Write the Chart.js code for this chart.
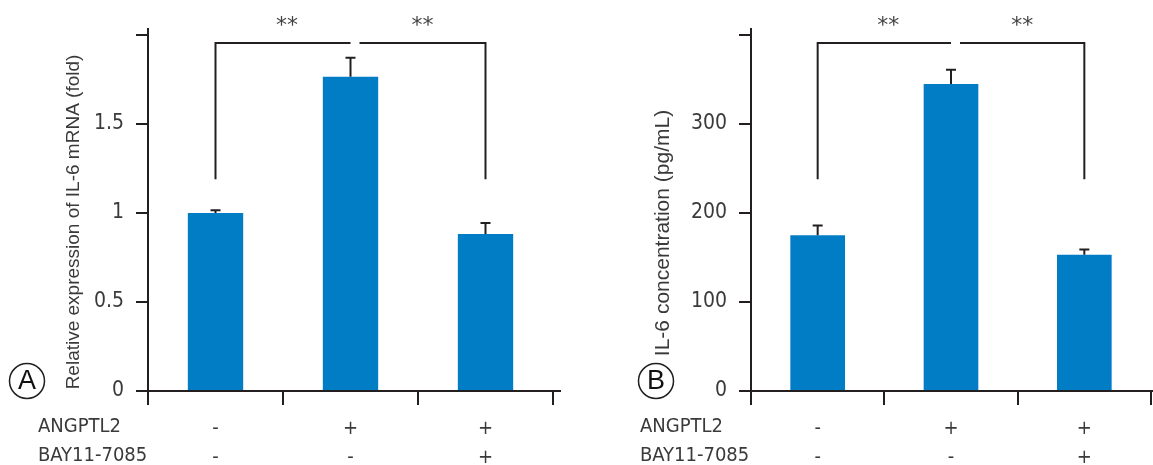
<!DOCTYPE html>
<html lang="en">
<head>
<meta charset="UTF-8">
<title>IL-6 ANGPTL2 BAY11-7085</title>
<script src="https://cdn.jsdelivr.net/npm/chart.js"></script>
<style>
  body { margin: 0; background: #fff; }
  #wrap { position: relative; width: 1153px; height: 465px; }
  canvas { position: absolute; top: 0; }
  #chartA { left: 0; }
  #chartB { left: 600px; }
</style>
</head>
<body>
<div id="wrap">
  <canvas id="chartA" width="600" height="465"></canvas>
  <canvas id="chartB" width="553" height="465"></canvas>
</div>
<script>
// treatment groups (x categories, one row per treatment)
const groups = [['-', '-'], ['+', '-'], ['+', '+']];
const rowNames = ['ANGPTL2', 'BAY11-7085'];

// panel A : relative IL-6 mRNA
const mrnaValues = [1.0, 1.765, 0.882];
const mrnaErrors = [0.015, 0.107, 0.062];
const mrnaBracket = [1.19, 1.955];   // bottom / top of the ** bracket
const mrnaTicks = [0, 0.5, 1, 1.5, 2];

// panel B : IL-6 concentration
const il6Values = [175, 345, 153];
const il6Errors = [11, 16, 6];
const il6Bracket = [238, 391];
const il6Ticks = [0, 100, 200, 300, 400];

const FONT = "'DejaVu Sans Condensed', 'Liberation Sans', sans-serif";
const TITLE_FONT = "'Liberation Sans', Arial, sans-serif";
const TEXT = '#3a3a3a';
const INK = '#231f20';
const BLUE = '#007dc5';

function makePanel(id, o) {
    const deco = {
        id: 'deco',
        afterDraw(chart) {
            const ctx = chart.ctx;
            const a = chart.chartArea;
            const y = chart.scales.y;
            const bars = chart.getDatasetMeta(0).data;
            ctx.save();
            ctx.strokeStyle = INK;
            ctx.lineWidth = 2;

            // axis lines, a bit longer than the plot area
            ctx.beginPath();
            ctx.moveTo(a.left, a.top - 7);
            ctx.lineTo(a.left, a.bottom + 11);
            ctx.moveTo(a.left - 11, a.bottom);
            ctx.lineTo(a.right + o.xExtra, a.bottom);
            ctx.stroke();

            // error bars (upper only)
            bars.forEach((b, i) => {
                const yt = y.getPixelForValue(o.values[i] + o.errors[i]);
                ctx.beginPath();
                ctx.moveTo(b.x, b.y);
                ctx.lineTo(b.x, yt);
                ctx.moveTo(b.x - 5, yt);
                ctx.lineTo(b.x + 5, yt);
                ctx.stroke();
            });

            // significance bracket
            const x1 = bars[0].x, xm = bars[1].x, x3 = bars[2].x;
            const yb = y.getPixelForValue(o.bracket[0]);
            const yt = y.getPixelForValue(o.bracket[1]);
            ctx.beginPath();
            ctx.moveTo(x1, yb);
            ctx.lineTo(x1, yt);
            ctx.lineTo(xm, yt);
            ctx.moveTo(xm + 9, yt);
            ctx.lineTo(x3, yt);
            ctx.lineTo(x3, yb);
            ctx.stroke();

            ctx.fillStyle = '#444';
            ctx.font = "22px 'DejaVu Sans'";
            ctx.textAlign = 'center';
            ctx.textBaseline = 'alphabetic';
            ctx.fillText('**', (x1 + xm) / 2 + 4, 32);
            ctx.fillText('**', (xm + 9 + x3) / 2, 32);

            // axis title
            ctx.fillStyle = TEXT;
            ctx.font = o.titleSize + 'px ' + TITLE_FONT;
            ctx.translate(o.titleX, o.titleY);
            ctx.rotate(-Math.PI / 2);
            ctx.textBaseline = 'middle';
            ctx.fillText(o.title, 0, 0);
            ctx.setTransform(1, 0, 0, 1, 0, 0);

            // row names for the +/- table
            ctx.font = '20px ' + FONT;
            ctx.textAlign = 'left';
            rowNames.forEach((n, i) => ctx.fillText(n, o.rowX, 427 + i * 29));

            // panel letter
            ctx.lineWidth = 1.5;
            ctx.beginPath();
            ctx.arc(o.letterX, 381, 17.5, 0, Math.PI * 2);
            ctx.stroke();
            ctx.font = "27px 'Liberation Sans', sans-serif";
            ctx.textAlign = 'center';
            ctx.fillStyle = '#111';
            ctx.fillText(o.letter, o.letterX, 382);
            ctx.restore();
        }
    };

    return new Chart(document.getElementById(id), {
        type: 'bar',
        data: {
            labels: groups,
            datasets: [{
                data: o.values,
                backgroundColor: BLUE,
                barPercentage: 0.41,
                categoryPercentage: 1
            }]
        },
        options: {
            responsive: false,
            animation: false,
            devicePixelRatio: 1,
            layout: { padding: { left: 0, top: 35, right: o.padRight, bottom: 0 } },
            plugins: { legend: { display: false }, tooltip: { enabled: false } },
            scales: {
                x: {
                    border: { display: false },
                    grid: { offset: true, drawOnChartArea: false, drawTicks: true, tickLength: 14, tickColor: INK, lineWidth: 2 },
                    ticks: {
                        color: TEXT, maxRotation: 0, autoSkip: false, padding: 9,
                        font: { family: FONT, size: 20, lineHeight: 29 / 20 }
                    },
                    afterFit: s => { s.height = 74; }
                },
                y: {
                    min: 0,
                    max: o.ticks[o.ticks.length - 1],
                    border: { display: false },
                    grid: { drawOnChartArea: false, drawTicks: true, tickLength: 12, tickColor: INK, lineWidth: 2 },
                    afterBuildTicks: s => { s.ticks = o.ticks.map(v => ({ value: v })); },
                    ticks: {
                        color: TEXT, padding: 12,
                        font: { family: FONT, size: 21 },
                        callback: v => (v === o.ticks[o.ticks.length - 1] ? '' : String(v))
                    },
                    afterFit: s => { s.width = o.axisLeft; }
                }
            }
        },
        plugins: [deco]
    });
}

makePanel('chartA', {
    values: mrnaValues, errors: mrnaErrors, bracket: mrnaBracket, ticks: mrnaTicks,
    title: 'Relative expression of IL-6 mRNA (fold)', titleX: 74, titleY: 222, titleSize: 19,
    axisLeft: 148, padRight: 47, xExtra: 8, rowX: 38, letter: 'A', letterX: 27
});
makePanel('chartB', {
    values: il6Values, errors: il6Errors, bracket: il6Bracket, ticks: il6Ticks,
    title: 'IL-6 concentration (pg/mL)', titleX: 63, titleY: 233, titleSize: 21,
    axisLeft: 151, padRight: 2, xExtra: 2, rowX: 40, letter: 'B', letterX: 56
});
</script>
</body>
</html>
